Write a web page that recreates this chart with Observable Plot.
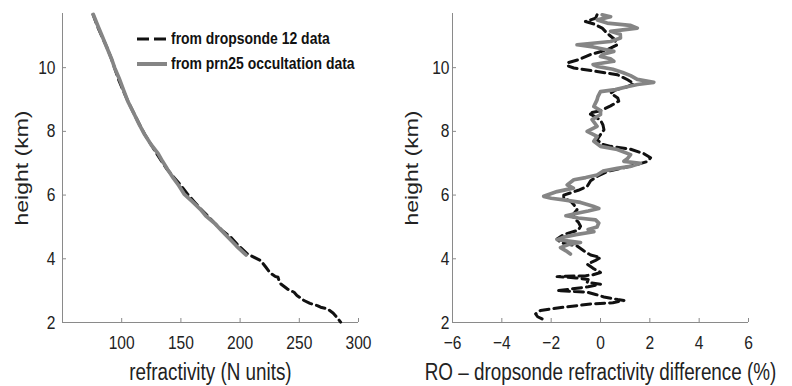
<!DOCTYPE html>
<html><head><meta charset="utf-8">
<script src="https://cdn.jsdelivr.net/npm/d3@7"></script>
<script src="https://cdn.jsdelivr.net/npm/@observablehq/plot@0.6"></script>
<style>
body{margin:0;background:#fff;}
#wrap{position:relative;width:792px;height:386px;display:flex;font-family:"Liberation Sans",Arial,sans-serif;}
#legend{position:absolute;left:137px;top:26px;font-weight:bold;font-size:17px;color:#111;line-height:25px;}
.row{display:flex;align-items:center;height:25px;white-space:nowrap;}
.row svg{margin-right:3px;flex:none;}
.row span{display:inline-block;transform:scaleX(0.82);transform-origin:0 50%;}
</style></head><body>
<div id="wrap"><div id="legend"></div></div>
<script>
// ---- tick values ----
const heightTicks = [2, 4, 6, 8, 10];
const refrTicks = [100, 150, 200, 250, 300];
const diffTicks = [-6, -4, -2, 0, 2, 4, 6];
const heightDomain = [2, 11.7];
const refrDomain = [50, 300];
const diffDomain = [-6, 6];

// ---- series labels ----
const seriesNames = ["from dropsonde 12 data", "from prn25 occultation data"];

// ---- left panel: refractivity profiles ----
const sondeNHeight = [11.67,11.3,11.02,10.6,10.29,10.0,9.67,9.3,8.94,8.6,8.21,7.9,7.58,7.3,7.06,6.8,6.54,6.3,6.02,5.8,5.55,5.35,5.13,4.9,4.67,4.4,4.15,3.94,3.75,3.55,3.45,3.42,3.3,3.21,3.05,2.95,2.85,2.69,2.6,2.53,2.48,2.43,2.3,2.15,2.01];
const sondeN = [75.8,79.5,82.8,88,91.2,93.9,96.9,101,105.3,109.8,115.1,119.5,124.9,129.6,133.8,138.5,144.5,150,155.8,161,167,172.5,178.2,184.5,192.3,199,206.3,217.5,221.5,225.5,229.5,232,233,234.4,240,245.6,248,254,259,265.2,268,273.7,278.5,282,284.9];
const occNHeight = [11.67,11.3,11.02,10.6,10.29,10.0,9.67,9.3,8.94,8.6,8.21,7.9,7.58,7.3,7.06,6.8,6.54,6.3,6.02,5.8,5.55,5.35,5.13,4.9,4.67,4.4,4.12];
const occN = [76.0,80.0,83.2,87.8,91.3,94.0,97.8,101.5,105.2,109.8,114.9,119.4,124.9,130.8,134.5,138.8,143.5,148.2,153.0,159.5,166.5,171,178,184,190,197,205];

// ---- right panel: RO - dropsonde difference (%) ----
const sondeDiffHeight = [11.66,11.55,11.45,11.38,11.24,11.08,10.9,10.72,10.56,10.41,10.25,10.15,10.05,9.99,9.88,9.78,9.62,9.5,9.4,9.3,9.2,9.05,8.95,8.8,8.65,8.57,8.45,8.35,8.2,8.05,7.9,7.74,7.6,7.53,7.44,7.3,7.17,7.05,6.96,6.85,6.74,6.6,6.45,6.27,6.15,6.0,5.9,5.8,5.7,5.54,5.4,5.28,5.15,5.02,4.9,4.76,4.62,4.5,4.4,4.25,4.12,4.04,3.95,3.83,3.7,3.57,3.5,3.47,3.44,3.4,3.35,3.26,3.2,3.12,3.05,3.0,2.95,2.88,2.8,2.72,2.69,2.62,2.58,2.53,2.47,2.38,2.27,2.18,2.11];
const sondeDiff = [-0.14,-0.2,-0.61,-0.3,0.07,0.27,0.55,0.68,0.27,-0.41,-0.9,-1.35,-1.3,-1.08,-0.14,0.68,1.1,1.35,1.08,0.6,0.41,0.7,0.74,0.41,0.0,-0.47,-0.2,0.0,0.1,0.14,0.0,-0.14,0.05,0.41,1.22,1.76,2.03,1.89,1.49,0.9,0.27,-0.1,-0.4,-0.54,-0.9,-1.49,-1.49,-1.2,-1.08,-0.95,-1.1,-1.08,-0.9,-0.81,-0.9,-1.49,-1.76,-1.6,-0.95,-0.68,-0.4,0.0,-0.2,-0.54,-0.3,0.0,-0.3,-0.6,-1.76,-1.0,-0.5,-0.54,0.0,-0.5,-1.2,-1.76,-0.54,-0.2,0.14,0.7,0.95,0.5,-0.4,-0.95,-1.6,-2.43,-2.63,-2.55,-2.36];
const occDiffHeight = [11.66,11.6,11.5,11.4,11.33,11.24,11.14,11.05,10.93,10.82,10.72,10.65,10.6,10.51,10.42,10.35,10.28,10.2,10.1,10.04,9.95,9.85,9.75,9.63,9.54,9.47,9.4,9.31,9.25,9.1,8.99,8.78,8.65,8.53,8.37,8.16,8.0,7.84,7.69,7.53,7.43,7.27,7.15,7.06,7.0,6.9,6.84,6.75,6.63,6.55,6.48,6.32,6.22,6.11,5.96,5.9,5.85,5.77,5.65,5.58,5.5,5.42,5.35,5.28,5.22,5.12,5.0,4.92,4.85,4.76,4.68,4.6,4.55,4.51,4.45,4.35,4.25,4.15];
const occDiff = [0.07,0.41,-0.13,0.27,1.2,1.49,0.41,0.8,0.81,0.41,-0.95,-0.3,0.0,0.54,0.1,0.0,0.4,0.54,-0.3,-0.14,0.5,0.9,1.22,1.49,2.16,1.5,1.08,0.6,0.0,-0.1,-0.14,-0.27,0.0,0.0,-0.34,-0.14,-0.54,-0.14,-0.27,0.0,0.68,1.22,1.1,0.95,1.62,1.2,0.68,0.1,-0.14,-0.6,-1.08,-1.35,-1.1,-1.76,-2.3,-2.0,-1.49,-0.81,-0.3,-0.07,-0.5,-1.0,-1.4,-0.9,-0.2,-0.07,-0.14,-0.5,-0.27,-1.0,-1.49,-1.76,-1.2,-0.81,-1.3,-1.62,-1.4,-1.22];

// ---- styling ----
const FONT = '"Liberation Sans",Arial,sans-serif';
const SQUEEZE = 0.82;
const AXIS = "#8a8a8a";
const SONDE = "#111";
const OCC = "#858585";
const W = 396, H = 386, MT = 13, MB = 64;

const rows = (hs, vs) => hs.map((h, i) => ({h, v: vs[i]}));

// condense glyphs horizontally (the reference uses a narrow face)
function condense(svg) {
  svg.querySelectorAll("text").forEach(t => {
    const tr = t.getAttribute("transform");
    if (!tr) return;
    const rotated = /rotate/.test(tr);
    t.setAttribute("transform", `${tr} ${rotated ? `scale(1,${SQUEEZE})` : `scale(${SQUEEZE},1)`}`);
  });
  return svg;
}

function panel({xDomain, xTicks, ml, mr, padY, xLabel, sonde, occ}) {
  const pw = W - ml - mr, ph = H - MT - MB;
  return condense(Plot.plot({
    width: W, height: H, marginLeft: ml, marginRight: mr, marginTop: MT, marginBottom: MB,
    style: {fontFamily: FONT, background: "transparent", color: "#222", overflow: "visible"},
    x: {domain: xDomain, label: null, axis: null},
    y: {domain: heightDomain, label: null, axis: null},
    marks: [
      Plot.ruleY([heightDomain[0]], {stroke: AXIS, strokeWidth: 1}),
      Plot.ruleX([xDomain[0]], {stroke: AXIS, strokeWidth: 1}),
      Plot.tickX(xTicks, {x: d => d, stroke: AXIS, insetTop: ph - 4}),
      Plot.tickY(heightTicks, {y: d => d, stroke: AXIS, insetRight: pw - 4}),
      Plot.axisX(xTicks, {tickSize: 0, tickPadding: 13, fontSize: 19, label: null, color: "#222"}),
      Plot.axisY(heightTicks, {tickSize: 0, tickPadding: padY, fontSize: 19, label: null, color: "#222"}),
      Plot.line(sonde, {x: "v", y: "h", stroke: SONDE, strokeWidth: 3, strokeDasharray: "9,5", curve: "linear"}),
      Plot.line(occ, {x: "v", y: "h", stroke: OCC, strokeWidth: 3.7, curve: "linear"}),
      Plot.text([xLabel], {frameAnchor: "bottom", dy: 57, fontSize: 23, fill: "#222", text: d => d}),
      Plot.text(["height (km)"], {frameAnchor: "left", textAnchor: "middle", lineAnchor: "middle", dx: -41, rotate: -90, fontSize: 23, fill: "#222", text: d => d})
    ]
  }));
}

const wrap = document.getElementById("wrap");
wrap.appendChild(panel({
  xDomain: refrDomain, xTicks: refrTicks, ml: 62, mr: 38, padY: 7,
  xLabel: "refractivity (N units)",
  sonde: rows(sondeNHeight, sondeN), occ: rows(occNHeight, occN)
}));
wrap.appendChild(panel({
  xDomain: diffDomain, xTicks: diffTicks, ml: 56, mr: 44, padY: 3,
  xLabel: "RO \u2013 dropsonde refractivity difference (%)",
  sonde: rows(sondeDiffHeight, sondeDiff), occ: rows(occDiffHeight, occDiff)
}));

// ---- legend (HTML overlay) ----
const legend = document.getElementById("legend");
const styles = [
  {stroke: SONDE, width: 3, dash: "12,5"},
  {stroke: OCC, width: 4, dash: null}
];
seriesNames.forEach((name, i) => {
  const row = document.createElement("div");
  row.className = "row";
  const s = styles[i];
  row.innerHTML = `<svg width="31" height="10"><line x1="0" y1="5" x2="30" y2="5" stroke="${s.stroke}" stroke-width="${s.width}" ${s.dash ? `stroke-dasharray="${s.dash}"` : ""}/></svg><span>${name}</span>`;
  legend.appendChild(row);
});
</script>
</body></html>
